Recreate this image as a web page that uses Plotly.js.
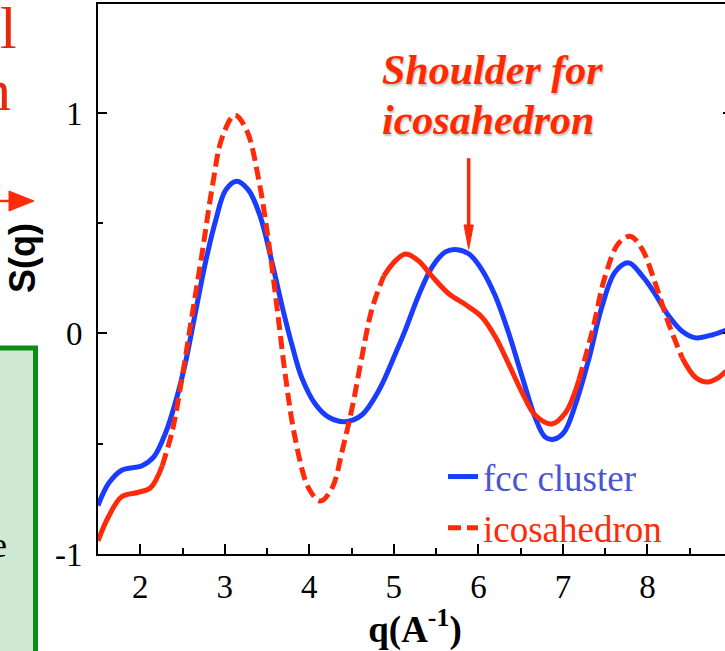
<!DOCTYPE html>
<html><head><meta charset="utf-8">
<script src="https://cdn.plot.ly/plotly-3.0.1.min.js"></script>
<style>html,body{margin:0;padding:0;overflow:hidden;background:#fff}#chart{width:732px;height:651px}</style>
</head><body><div id="chart"></div>
<script>
// ---- data ----
const qFcc = [1.50,1.625,1.78,2.02,2.16,2.30,2.41,2.53,2.65,2.77,2.89,3.01,3.14,3.28,3.42,3.56,3.68,3.80,3.91,4.07,4.23,4.43,4.62,4.82,5.02,5.14,5.29,5.45,5.61,5.75,5.89,6.04,6.20,6.36,6.52,6.67,6.79,6.89,7.01,7.15,7.31,7.46,7.62,7.78,7.94,8.09,8.25,8.41,8.57,8.73,8.93];
const sFcc = [-0.78,-0.68,-0.62,-0.60,-0.56,-0.45,-0.32,-0.14,0.09,0.32,0.51,0.65,0.69,0.65,0.53,0.32,0.12,-0.06,-0.20,-0.32,-0.38,-0.40,-0.37,-0.26,-0.09,0.02,0.17,0.30,0.37,0.38,0.36,0.29,0.17,0.0,-0.20,-0.38,-0.47,-0.48,-0.45,-0.32,-0.11,0.12,0.28,0.32,0.26,0.18,0.08,0.01,-0.02,-0.01,0.015];
const qIco = [1.50,1.625,1.78,1.98,2.12,2.26,2.38,2.49,2.61,2.73,2.85,2.97,3.12,3.26,3.40,3.52,3.62,3.72,3.83,3.99,4.13,4.27,4.39,4.51,4.62,4.74,4.88,5.02,5.14,5.29,5.45,5.65,5.85,6.04,6.20,6.36,6.52,6.67,6.87,7.03,7.19,7.35,7.50,7.66,7.80,7.94,8.09,8.25,8.41,8.57,8.71,8.84,8.93];
const sIco = [-0.94,-0.83,-0.74,-0.72,-0.70,-0.60,-0.44,-0.21,0.075,0.36,0.66,0.89,0.99,0.92,0.70,0.41,0.11,-0.20,-0.47,-0.70,-0.76,-0.70,-0.53,-0.33,-0.11,0.11,0.26,0.33,0.36,0.33,0.26,0.18,0.13,0.075,-0.015,-0.14,-0.27,-0.37,-0.41,-0.36,-0.21,0.015,0.26,0.41,0.44,0.38,0.23,0.045,-0.11,-0.20,-0.22,-0.20,-0.17];
// q ranges where the icosahedron curve is drawn without visible dashes
const icoSolidRanges = [[1.50,2.26],[4.88,7.19],[8.41,8.93]];
const seriesNames = ['fcc cluster','icosahedron'];
const xTickVals = [2,3,4,5,6,7,8];
const yTickVals = [-1,0,1];
const yTickText = ['-1','0','1'];
const xTitle = 'q(A<sup>-1</sup>)';
const yTitle = 'S(q)';
const noteLines = ['Shoulder for','icosahedron'];
const shoulderQ = 5.885, shoulderTipS = 0.382, shoulderTailS = 0.795;
const sideLetters = ['l','n'];
const boxLetter = 'e';

// ---- helpers for pixel placement of decorations ----
const L = 98, PW = 634, B = 554, PH = 550;
const px = p => (p - L) / PW;
const py = p => (B - p) / PH;

const BLUE = '#1a3cff', RED = '#ff2a0a';

const isSolid = q => icoSolidRanges.some(r => q >= r[0] - 1e-9 && q <= r[1] + 1e-9);
const isEdge = q => icoSolidRanges.some(r => Math.abs(q - r[0]) < 1e-9 || Math.abs(q - r[1]) < 1e-9);
const icoSolid = sIco.map((s, i) => isSolid(qIco[i]) ? s : null);
const icoDash = sIco.map((s, i) => (!isSolid(qIco[i]) || isEdge(qIco[i])) ? s : null);

const traces = [
  {x: qFcc, y: sFcc, type: 'scatter', mode: 'lines', name: '<span style="color:#4a55d2">' + seriesNames[0] + '</span>',
   line: {color: BLUE, width: 5, shape: 'spline', smoothing: 1}},
  {x: qIco, y: icoDash, type: 'scatter', mode: 'lines', name: '<span style="color:' + RED + '">' + seriesNames[1] + '</span>',
   line: {color: RED, width: 5, dash: '13px,6px', shape: 'spline', smoothing: 1}, connectgaps: false},
  {x: qIco, y: icoSolid, type: 'scatter', mode: 'lines', showlegend: false,
   line: {color: RED, width: 5, shape: 'spline', smoothing: 1}, connectgaps: false}
];

const serif = 'Liberation Serif, Times New Roman, serif';
const noteFont = {family: serif, size: 42, color: '#ff2a00', style: 'italic', weight: 'bold', shadow: '1px 2px 2px rgba(0,0,0,0.25)'};
const tickFont = {family: serif, size: 33, color: '#000'};

const layout = {
  width: 732, height: 651,
  margin: {l: L, r: 0, t: 4, b: 97, pad: 0},
  paper_bgcolor: '#fff', plot_bgcolor: '#fff',
  showlegend: true,
  legend: {x: px(443), y: py(446), xanchor: 'left', yanchor: 'top', bgcolor: 'rgba(0,0,0,0)',
           font: {family: serif, size: 37, color: '#000'}, tracegroupgap: 0},
  xaxis: {range: [1.5, 9.0], tickvals: xTickVals, ticks: 'inside', ticklen: 10, tickwidth: 2, tickcolor: '#000',
          showline: true, linewidth: 2, linecolor: '#000', mirror: true, showgrid: false, zeroline: false,
          minor: {dtick: 0.5, ticks: 'inside', ticklen: 6, tickwidth: 2, tickcolor: '#000', showgrid: false},
          tickfont: tickFont, ticklabelstandoff: 2,
          title: {text: xTitle, standoff: 20, font: {family: serif, size: 37, color: '#000', weight: 'bold'}}},
  yaxis: {range: [-1, 1.494], tickvals: yTickVals, ticktext: yTickText, ticks: 'inside', ticklen: 9, tickwidth: 2, tickcolor: '#000',
          showline: true, linewidth: 2, linecolor: '#000', mirror: 'ticks', showgrid: false, zeroline: false,
          minor: {dtick: 0.5, ticks: 'inside', ticklen: 5, tickwidth: 2, tickcolor: '#000', showgrid: false},
          tickfont: tickFont, ticklabelstandoff: 7},
  shapes: [
    // shoulder arrow
    {type: 'line', xref: 'x', yref: 'y', x0: shoulderQ, x1: shoulderQ, y0: shoulderTailS, y1: shoulderTipS + 0.09, line: {color: RED, width: 3.5}},
    {type: 'path', xref: 'x', yref: 'y', path: `M ${shoulderQ - 0.055},${shoulderTipS + 0.11} L ${shoulderQ},${shoulderTipS} L ${shoulderQ + 0.055},${shoulderTipS + 0.11} Z`,
     fillcolor: RED, line: {color: RED, width: 1}},
    // neighbouring panel pieces on the left
    {type: 'rect', xref: 'paper', yref: 'paper', x0: px(-20), x1: px(35.5), y0: py(700), y1: py(348),
     fillcolor: '#cfe8d2', line: {color: '#0b8c12', width: 5}},
    {type: 'line', xref: 'paper', yref: 'paper', x0: px(-10), x1: px(14), y0: py(201), y1: py(201), line: {color: RED, width: 2.5}},
    {type: 'path', xref: 'paper', yref: 'paper', path: `M ${px(9)},${py(191)} L ${px(34)},${py(201)} L ${px(9)},${py(211)} Z`,
     fillcolor: RED, line: {color: RED, width: 1}}
  ],
  annotations: [
    {xref: 'paper', yref: 'paper', x: px(22), y: py(258), xanchor: 'center', yanchor: 'middle', textangle: -90, text: yTitle, showarrow: false,
     font: {family: 'Liberation Sans, Arial, sans-serif', size: 36, color: '#000', weight: 'bold'}},
    {xref: 'paper', yref: 'paper', x: px(380), y: py(70), xanchor: 'left', yanchor: 'middle', text: noteLines[0], showarrow: false, font: noteFont},
    {xref: 'paper', yref: 'paper', x: px(380), y: py(120), xanchor: 'left', yanchor: 'middle', text: noteLines[1], showarrow: false, font: noteFont},
    {xref: 'paper', yref: 'paper', x: px(19), y: py(28), xanchor: 'right', yanchor: 'middle', text: sideLetters[0], showarrow: false,
     font: {family: serif, size: 60, color: '#e8280c'}},
    {xref: 'paper', yref: 'paper', x: px(13), y: py(90), xanchor: 'right', yanchor: 'middle', text: sideLetters[1], showarrow: false,
     font: {family: serif, size: 60, color: '#e8280c'}},
    {xref: 'paper', yref: 'paper', x: px(9), y: py(545), xanchor: 'right', yanchor: 'middle', text: boxLetter, showarrow: false,
     font: {family: serif, size: 36, color: '#000'}}
  ]
};

Plotly.newPlot('chart', traces, layout, {displayModeBar: false, staticPlot: true});
</script>
</body></html>
